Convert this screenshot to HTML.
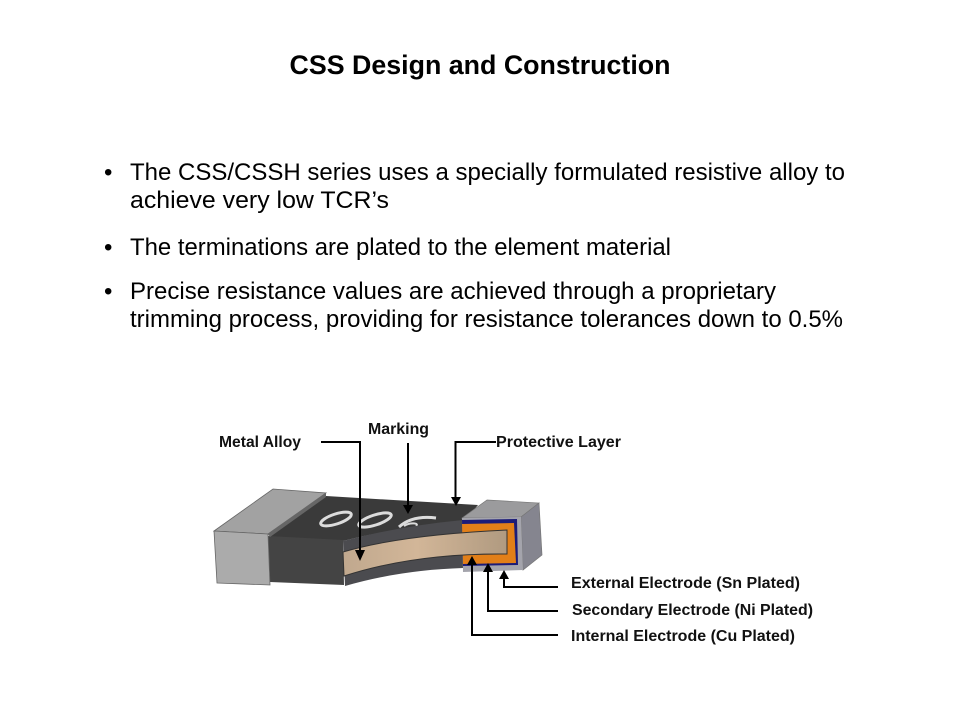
<!DOCTYPE html>
<html><head><meta charset="utf-8"><style>html,body{margin:0;padding:0;background:#fff;width:960px;height:720px;overflow:hidden}svg{display:block}text{font-family:"Liberation Sans",sans-serif;fill:#000}.b{font-size:24px}.l{font-size:16px;font-weight:bold;fill:#111}</style></head><body>
<svg width="960" height="720" viewBox="0 0 960 720" xmlns="http://www.w3.org/2000/svg">
<defs><linearGradient id="cu" x1="0" x2="1" y1="0" y2="0"><stop offset="0" stop-color="#c0a88e"/><stop offset=".45" stop-color="#d2b698"/><stop offset="1" stop-color="#b09a80"/></linearGradient></defs>
<text x="480" y="74" text-anchor="middle" font-size="26.67" font-weight="bold" textLength="381" lengthAdjust="spacingAndGlyphs">CSS Design and Construction</text>
<text class="b" x="104" y="180">•</text><text class="b" x="130" y="180" textLength="715" lengthAdjust="spacingAndGlyphs">The CSS/CSSH series uses a specially formulated resistive alloy to</text>
<text class="b" x="130" y="208" textLength="259" lengthAdjust="spacingAndGlyphs">achieve very low TCR’s</text>
<text class="b" x="104" y="255">•</text><text class="b" x="130" y="255" textLength="541" lengthAdjust="spacingAndGlyphs">The terminations are plated to the element material</text>
<text class="b" x="104" y="299">•</text><text class="b" x="130" y="299" textLength="646" lengthAdjust="spacingAndGlyphs">Precise resistance values are achieved through a proprietary</text>
<text class="b" x="130" y="327" textLength="713" lengthAdjust="spacingAndGlyphs">trimming process, providing for resistance tolerances down to 0.5%</text>

<!-- body top -->
<path d="M326 496L478 505L462 524Q400 526 343 541L268 538Z" fill="#3a3a3a"/>
<g fill="none" stroke="#dcdcdc" stroke-width="3">
<ellipse cx="336" cy="519" rx="16" ry="5" transform="rotate(-18 336 519)"/>
<ellipse cx="375" cy="520" rx="17" ry="5" transform="rotate(-18 375 520)"/>
<path d="M399 527C408 519 420 516 436 518"/><path d="M404 526C410 522 420 523 416 526" stroke-width="2"/>
</g>
<!-- left front body -->
<path d="M268 536L343 540L344 585L270 582Z" fill="#444"/>
<!-- layers -->
<path d="M343 541Q400 526 463 520L463 568Q400 570 345 586Z" fill="#4b4b4f"/>
<!-- terminal right -->
<path d="M462 518L487 500L539 503L521 517Z" fill="#9b9b9d" stroke="#777" stroke-width=".7"/>
<path d="M521 517L539 503L542 555L523 570Z" fill="#85858f" stroke="#777" stroke-width=".7"/>
<path d="M462 518L521 517L523 570L463 572Z" fill="#a4a4ac"/>
<path d="M462 520L517 519L518 565L463 566Z" fill="#1c1c78"/>
<path d="M462 524L514 523L516 563L463 564Z" fill="#e27f18"/>
<!-- copper -->
<path d="M343 552Q400 535 507 530L507 554Q415 553 344 576Z" fill="url(#cu)" stroke="#333" stroke-width="1"/>
<!-- left terminal -->
<path d="M214 531L273 489L326 493L268 534Z" fill="#a2a2a2" stroke="#666" stroke-width=".8"/>
<path d="M268 534L326 493V497L270 537Z" fill="#666"/>
<path d="M214 531L268 534L270 585L217 583Z" fill="#ababab" stroke="#666" stroke-width=".8"/>
<!-- arrows -->
<g fill="none" stroke="#000" stroke-width="2">
<path d="M321 442H360V552"/><path d="M408 443V507"/><path d="M496 442H455.500V499"/>
<path d="M558 587H504V578"/><path d="M558 611H488V570"/><path d="M558 635H472V563"/>
</g>
<g fill="#000">
<path d="M355 550H365L360 561Z"/><path d="M403 505H413L408 514Z"/><path d="M451 497H461L456 506Z"/>
<path d="M499 579H509L504 570Z"/><path d="M483 572H493L488 563Z"/><path d="M467 565H477L472 556Z"/>
</g>
<text class="l" x="219" y="447" textLength="82" lengthAdjust="spacingAndGlyphs">Metal Alloy</text>
<text class="l" x="368" y="434" textLength="61" lengthAdjust="spacingAndGlyphs">Marking</text>
<text class="l" x="496" y="447" textLength="125" lengthAdjust="spacingAndGlyphs">Protective Layer</text>
<text class="l" x="571" y="588" textLength="229" lengthAdjust="spacingAndGlyphs">External Electrode (Sn Plated)</text>
<text class="l" x="572" y="615" textLength="241" lengthAdjust="spacingAndGlyphs">Secondary Electrode (Ni Plated)</text>
<text class="l" x="571" y="641" textLength="224" lengthAdjust="spacingAndGlyphs">Internal Electrode (Cu Plated)</text>
</svg>
</body></html>
